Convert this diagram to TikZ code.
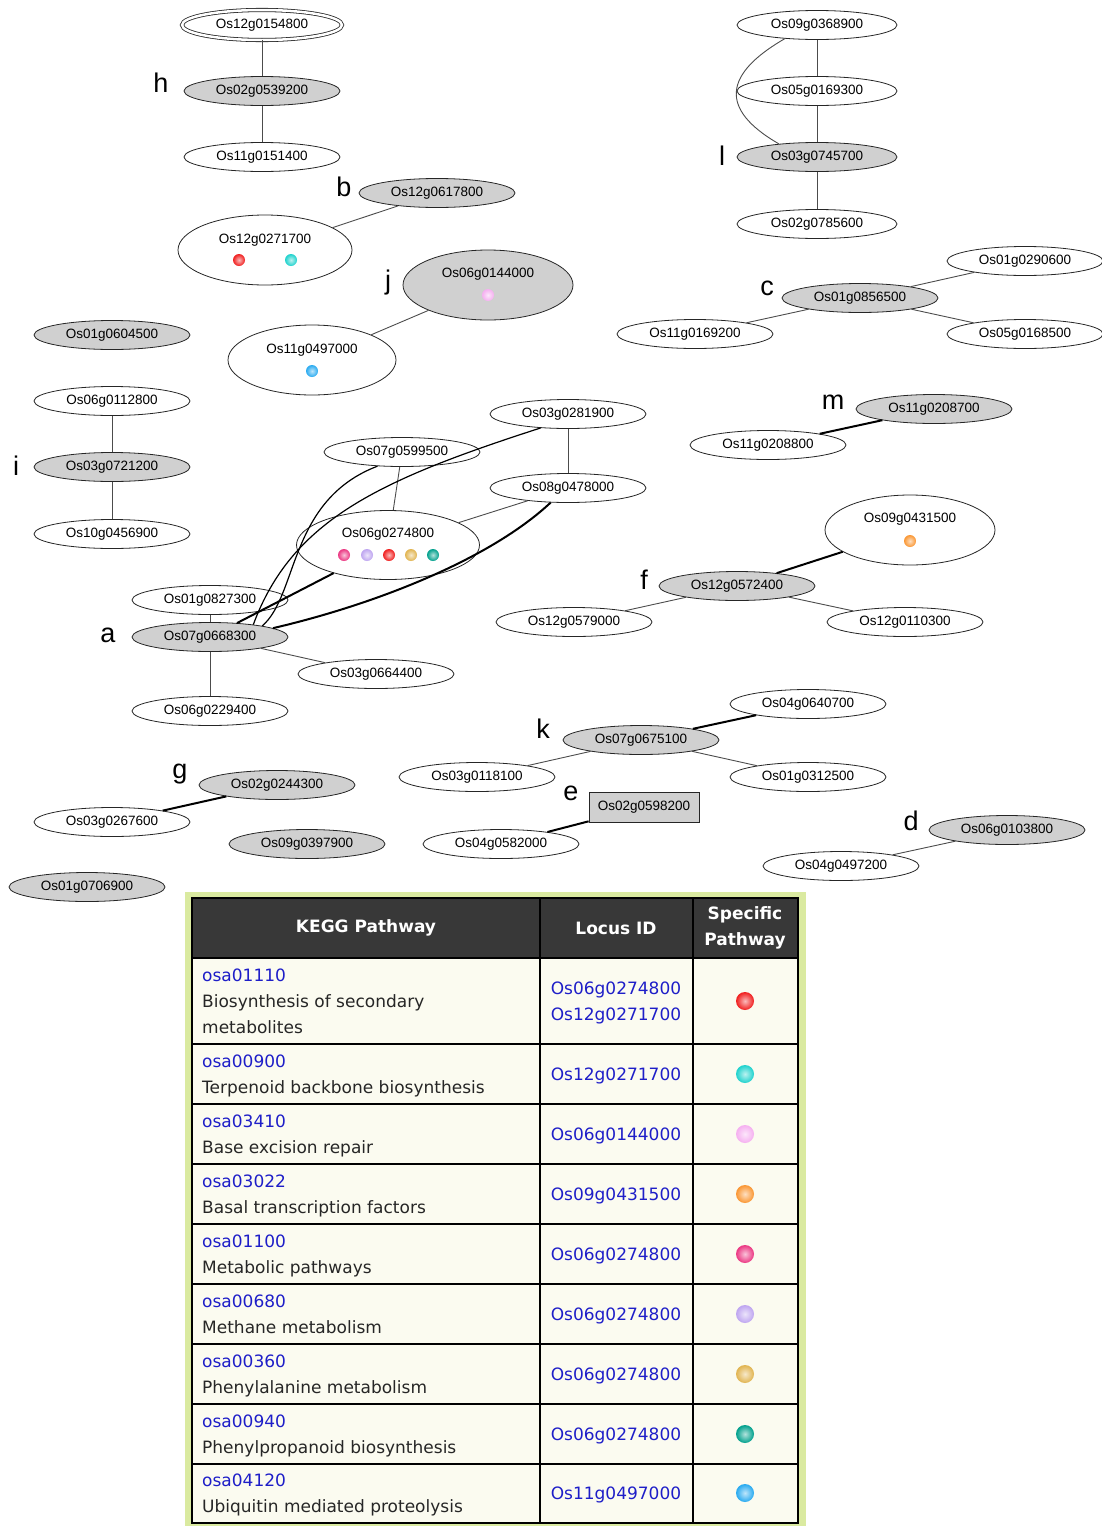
\documentclass[tikz,border=0pt]{standalone}
\usepackage{fontspec}
\setmainfont{Liberation Sans}
\newfontfamily\tabfont{DejaVu Sans}
\usetikzlibrary{shapes.geometric,positioning}
\definecolor{hubgray}{RGB}{208,208,208}
\definecolor{framegreen}{RGB}{218,234,160}
\definecolor{cellbg}{RGB}{251,251,240}
\definecolor{headgray}{RGB}{56,56,56}
\definecolor{linkblue}{RGB}{30,30,200}
\definecolor{dotred}{RGB}{240,30,30}
\definecolor{dotcyan}{RGB}{30,210,205}
\definecolor{dotpink}{RGB}{245,175,240}
\definecolor{dotorange}{RGB}{250,150,50}
\definecolor{dotmagenta}{RGB}{235,55,130}
\definecolor{dotlilac}{RGB}{190,165,240}
\definecolor{dotgold}{RGB}{225,180,80}
\definecolor{dotteal}{RGB}{0,160,140}
\definecolor{dotblue}{RGB}{40,170,240}

\begin{document}
\begin{tikzpicture}[x=1pt, y=1pt,
    gene/.style={ellipse, draw=black!85, line width=0.8pt, fill=white, minimum width=156pt, minimum height=29pt, inner sep=0pt, font=\fontsize{13.5}{15}\selectfont},
    hub/.style={gene, fill=hubgray},
    bignode/.style={gene, minimum width=174pt, minimum height=70pt},
    glabel/.style={font=\fontsize{13.5}{15}\selectfont, inner sep=0pt},
    letter/.style={font=\fontsize{27}{30}\selectfont, inner sep=0pt, anchor=base},
    pdot/.style={circle, shading=radial, inner color=#1!30!white, outer color=#1, minimum size=12pt, inner sep=0pt},
    tdot/.style={circle, shading=radial, inner color=#1!30!white, outer color=#1, minimum size=18pt, inner sep=0pt},
    link/.style={draw=black!70, line width=0.9pt},
    strong/.style={draw=black, line width=2pt},
    grid/.style={draw=black, line width=1.8pt},
    head/.style={text=white, font=\tabfont\bfseries\fontsize{17}{26}\selectfont, align=center, inner sep=0pt},
    code/.style={text=linkblue, font=\tabfont\fontsize{17}{26}\selectfont, anchor=base west, inner sep=0pt},
    desc/.style={text=black!85, font=\tabfont\fontsize{17}{26}\selectfont, anchor=base west, inner sep=0pt},
    locus/.style={text=linkblue, font=\tabfont\fontsize{17}{26}\selectfont, anchor=base, inner sep=0pt}
]
\useasboundingbox (0,0) rectangle (1102,-1526);

% Cluster h
\node[gene, double, double distance=2.5pt, minimum width=160pt, minimum height=30pt] (os12g0154800) at (262,-25) {Os12g0154800};
\node[hub] (os02g0539200) at (262,-91) {Os02g0539200};
\node[gene] (os11g0151400) at (262,-157) {Os11g0151400};
\node[letter] (lh) at (161,-92) {h};
\draw[link] (os12g0154800) -- (os02g0539200);
\draw[link] (os02g0539200) -- (os11g0151400);

% Cluster b
\node[hub] (os12g0617800) at (437,-193) {Os12g0617800};
\node[bignode] (os12g0271700) at (265,-250) {};
\node[glabel] (t12g0271700) at (265,-240) {Os12g0271700};
\node[pdot=dotred] (b1) at (239,-260) {};
\node[pdot=dotcyan] (b2) at (291,-260) {};
\node[letter] (lb) at (344,-196) {b};
\draw[link] (os12g0617800) -- (os12g0271700);

% Cluster j
\node[bignode, fill=hubgray, minimum width=170pt] (os06g0144000) at (488,-285) {};
\node[glabel] (t06g0144000) at (488,-274) {Os06g0144000};
\node[pdot=dotpink] (j1) at (488,-295) {};
\node[bignode, minimum width=168pt] (os11g0497000) at (312,-360) {};
\node[glabel] (t11g0497000) at (312,-350) {Os11g0497000};
\node[pdot=dotblue] (j2) at (312,-371) {};
\node[letter] (lj) at (388,-289) {j};
\draw[link] (os06g0144000) -- (os11g0497000);

% Single nodes
\node[hub] (os01g0604500) at (112,-335) {Os01g0604500};
\node[hub] (os09g0397900) at (307,-844) {Os09g0397900};
\node[hub] (os01g0706900) at (87,-887) {Os01g0706900};

% Cluster i
\node[gene] (os06g0112800) at (112,-401) {Os06g0112800};
\node[hub] (os03g0721200) at (112,-467) {Os03g0721200};
\node[gene] (os10g0456900) at (112,-534) {Os10g0456900};
\node[letter] (li) at (16,-475) {i};
\draw[link] (os06g0112800) -- (os03g0721200);
\draw[link] (os03g0721200) -- (os10g0456900);

% Cluster a
\node[gene] (os07g0599500) at (402,-452) {Os07g0599500};
\node[gene] (os03g0281900) at (568,-414) {Os03g0281900};
\node[gene] (os08g0478000) at (568,-488) {Os08g0478000};
\node[bignode, minimum width=183pt, minimum height=69pt] (os06g0274800) at (388,-545) {};
\node[glabel] (t06g0274800) at (388,-534) {Os06g0274800};
\node[pdot=dotmagenta] (a1) at (344,-555) {};
\node[pdot=dotlilac] (a2) at (367,-555) {};
\node[pdot=dotred] (a3) at (389,-555) {};
\node[pdot=dotgold] (a4) at (411,-555) {};
\node[pdot=dotteal] (a5) at (433,-555) {};
\node[gene] (os01g0827300) at (210,-600) {Os01g0827300};
\node[hub] (os07g0668300) at (210,-637) {Os07g0668300};
\node[gene] (os03g0664400) at (376,-674) {Os03g0664400};
\node[gene] (os06g0229400) at (210,-711) {Os06g0229400};
\node[letter] (la) at (108,-642) {a};
\draw[link] (os03g0281900) -- (os08g0478000);
\draw[link] (os07g0599500) -- (os06g0274800);
\draw[link] (os06g0274800) -- (os08g0478000);
\draw[link] (os07g0668300) -- (os01g0827300);
\draw[link] (os07g0668300) -- (os03g0664400);
\draw[link] (os07g0668300) -- (os06g0229400);
\draw[strong] (os07g0668300) -- (os06g0274800);
\draw[strong] (os07g0668300.8) .. controls +(99,23) and +(-62,-58) .. (os08g0478000.220);
\draw[link, line width=1.2pt, draw=black] (os07g0668300.12) .. controls +(36,31) and +(-89,-34) .. (os07g0599500.210);
\draw[link, line width=1.2pt, draw=black] (os07g0668300.16) .. controls +(39,105) and +(-161,-52) .. (os03g0281900.207);

% Cluster l
\node[gene, minimum width=160pt] (os09g0368900) at (817,-25) {Os09g0368900};
\node[gene, minimum width=160pt] (os05g0169300) at (817,-91) {Os05g0169300};
\node[hub, minimum width=160pt] (os03g0745700) at (817,-157) {Os03g0745700};
\node[gene, minimum width=160pt] (os02g0785600) at (817,-224) {Os02g0785600};
\node[letter] (ll) at (722,-165) {l};
\draw[link] (os09g0368900) -- (os05g0169300);
\draw[link] (os05g0169300) -- (os03g0745700);
\draw[link] (os03g0745700) -- (os02g0785600);
\draw[link] (os09g0368900.203) to[out=210, in=150, looseness=1.7] (os03g0745700.161);

% Cluster c
\node[gene] (os01g0290600) at (1025,-261) {Os01g0290600};
\node[hub] (os01g0856500) at (860,-298) {Os01g0856500};
\node[gene] (os11g0169200) at (695,-334) {Os11g0169200};
\node[gene] (os05g0168500) at (1025,-334) {Os05g0168500};
\node[letter] (lc) at (767,-295) {c};
\draw[link] (os01g0856500) -- (os01g0290600);
\draw[link] (os01g0856500) -- (os11g0169200);
\draw[link] (os01g0856500) -- (os05g0168500);

% Cluster m
\node[hub] (os11g0208700) at (934,-409) {Os11g0208700};
\node[gene] (os11g0208800) at (768,-445) {Os11g0208800};
\node[letter] (lm) at (833,-409) {m};
\draw[strong] (os11g0208700) -- (os11g0208800);

% Cluster f
\node[bignode, minimum width=170pt] (os09g0431500) at (910,-530) {};
\node[glabel] (t09g0431500) at (910,-519) {Os09g0431500};
\node[pdot=dotorange] (f1) at (910,-541) {};
\node[hub] (os12g0572400) at (737,-586) {Os12g0572400};
\node[gene] (os12g0579000) at (574,-622) {Os12g0579000};
\node[gene] (os12g0110300) at (905,-622) {Os12g0110300};
\node[letter] (lf) at (644,-589) {f};
\draw[strong] (os12g0572400) -- (os09g0431500);
\draw[link] (os12g0572400) -- (os12g0579000);
\draw[link] (os12g0572400) -- (os12g0110300);

% Cluster k
\node[gene] (os04g0640700) at (808,-704) {Os04g0640700};
\node[hub] (os07g0675100) at (641,-740) {Os07g0675100};
\node[gene] (os03g0118100) at (477,-777) {Os03g0118100};
\node[gene] (os01g0312500) at (808,-777) {Os01g0312500};
\node[letter] (lk) at (543,-738) {k};
\draw[strong] (os07g0675100) -- (os04g0640700);
\draw[link] (os07g0675100) -- (os03g0118100);
\draw[link] (os07g0675100) -- (os01g0312500);

% Cluster e
\node[rectangle, draw=black!85, line width=0.8pt, fill=hubgray, minimum width=110pt, minimum height=30pt, font=\fontsize{13.5}{15}\selectfont] (os02g0598200) at (644,-807) {Os02g0598200};
\node[gene] (os04g0582000) at (501,-844) {Os04g0582000};
\node[letter] (le) at (571,-800) {e};
\draw[strong] (os02g0598200) -- (os04g0582000);

% Cluster d
\node[hub] (os06g0103800) at (1007,-830) {Os06g0103800};
\node[gene] (os04g0497200) at (841,-866) {Os04g0497200};
\node[letter] (ld) at (911,-830) {d};
\draw[link] (os06g0103800) -- (os04g0497200);

% Cluster g
\node[hub] (os02g0244300) at (277,-785) {Os02g0244300};
\node[gene] (os03g0267600) at (112,-822) {Os03g0267600};
\node[letter] (lg) at (180,-778) {g};
\draw[strong] (os02g0244300) -- (os03g0267600);

% KEGG table
\fill[framegreen] (185,-892) rectangle (806,-1526);
\fill[cellbg] (192,-898) rectangle (798,-1523);
\fill[headgray] (192,-898) rectangle (798,-958);
\draw[grid] (192,-898) rectangle (798,-1523);
\draw[grid] (540,-898) -- (540,-1523);
\draw[grid] (693,-898) -- (693,-1523);
\draw[grid] (192,-958) -- (798,-958);
\draw[grid] (192,-1044) -- (798,-1044);
\draw[grid] (192,-1104) -- (798,-1104);
\draw[grid] (192,-1164) -- (798,-1164);
\draw[grid] (192,-1224) -- (798,-1224);
\draw[grid] (192,-1284) -- (798,-1284);
\draw[grid] (192,-1344) -- (798,-1344);
\draw[grid] (192,-1404) -- (798,-1404);
\draw[grid] (192,-1464) -- (798,-1464);

\node[head] (hkegg) at (366,-928) {KEGG Pathway};
\node[head] (hlocus) at (616,-928) {Locus ID};
\node[head] (hspec) at (745,-928) {Specific\\Pathway};

\node[code] (c1) at (202,-981) {osa01110};
\node[desc] (d1) at (202,-1007) {Biosynthesis of secondary};
\node[desc] (d1b) at (202,-1033) {metabolites};
\node[locus] (l1) at (616,-994) {Os06g0274800};
\node[locus] (l1b) at (616,-1020) {Os12g0271700};
\node[tdot=dotred] (s1) at (745,-1001) {};

\node[code] (c2) at (202,-1067) {osa00900};
\node[desc] (d2) at (202,-1093) {Terpenoid backbone biosynthesis};
\node[locus] (l2) at (616,-1080) {Os12g0271700};
\node[tdot=dotcyan] (s2) at (745,-1074) {};

\node[code] (c3) at (202,-1127) {osa03410};
\node[desc] (d3) at (202,-1153) {Base excision repair};
\node[locus] (l3) at (616,-1140) {Os06g0144000};
\node[tdot=dotpink] (s3) at (745,-1134) {};

\node[code] (c4) at (202,-1187) {osa03022};
\node[desc] (d4) at (202,-1213) {Basal transcription factors};
\node[locus] (l4) at (616,-1200) {Os09g0431500};
\node[tdot=dotorange] (s4) at (745,-1194) {};

\node[code] (c5) at (202,-1247) {osa01100};
\node[desc] (d5) at (202,-1273) {Metabolic pathways};
\node[locus] (l5) at (616,-1260) {Os06g0274800};
\node[tdot=dotmagenta] (s5) at (745,-1254) {};

\node[code] (c6) at (202,-1307) {osa00680};
\node[desc] (d6) at (202,-1333) {Methane metabolism};
\node[locus] (l6) at (616,-1320) {Os06g0274800};
\node[tdot=dotlilac] (s6) at (745,-1314) {};

\node[code] (c7) at (202,-1367) {osa00360};
\node[desc] (d7) at (202,-1393) {Phenylalanine metabolism};
\node[locus] (l7) at (616,-1380) {Os06g0274800};
\node[tdot=dotgold] (s7) at (745,-1374) {};

\node[code] (c8) at (202,-1427) {osa00940};
\node[desc] (d8) at (202,-1453) {Phenylpropanoid biosynthesis};
\node[locus] (l8) at (616,-1440) {Os06g0274800};
\node[tdot=dotteal] (s8) at (745,-1434) {};

\node[code] (c9) at (202,-1486) {osa04120};
\node[desc] (d9) at (202,-1512) {Ubiquitin mediated proteolysis};
\node[locus] (l9) at (616,-1499) {Os11g0497000};
\node[tdot=dotblue] (s9) at (745,-1493) {};

\end{tikzpicture}
\end{document}
